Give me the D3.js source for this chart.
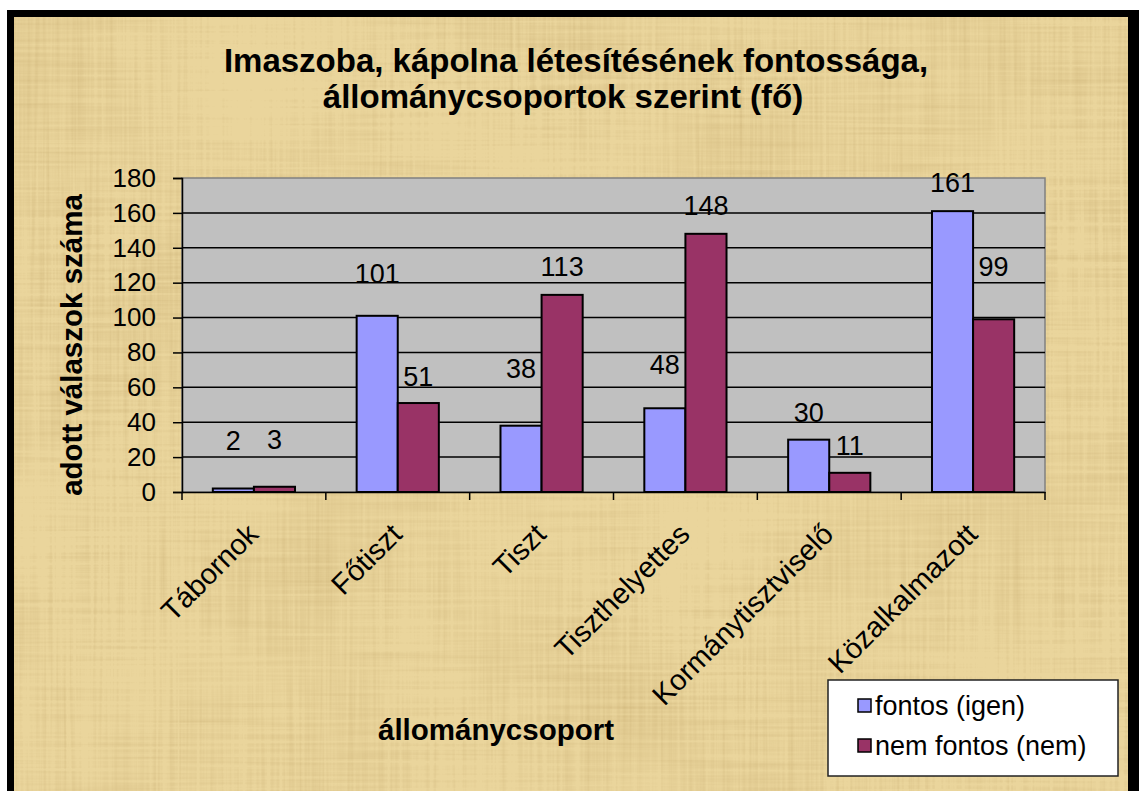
<!DOCTYPE html>
<html>
<head>
<meta charset="utf-8">
<script src="https://cdn.jsdelivr.net/npm/d3@7"></script>
<style>
  body { margin: 0; background: #fff; }
  text { font-family: "Liberation Sans", Arial, sans-serif; fill: #000; }
</style>
</head>
<body>
<svg width="1139" height="791"></svg>
<script>
var categories = ["Tábornok", "Főtiszt", "Tiszt", "Tiszthelyettes", "Kormánytisztviselő", "Közalkalmazott"];
var seriesNames = ["fontos (igen)", "nem fontos (nem)"];
var fontos = [2, 101, 38, 48, 30, 161];
var nemFontos = [3, 51, 113, 148, 11, 99];
var yTicks = [0, 20, 40, 60, 80, 100, 120, 140, 160, 180];

var svg = d3.select("svg"),
    width = +svg.attr("width"),
    height = +svg.attr("height");

var colors = ["#9999ff", "#993366"];

// papyrus texture
var defs = svg.append("defs");
var f = defs.append("filter").attr("id", "papyrus")
    .attr("x", 0).attr("y", 0).attr("width", "100%").attr("height", "100%");
f.append("feTurbulence").attr("type", "fractalNoise").attr("baseFrequency", "0.3 0.006")
    .attr("numOctaves", 2).attr("seed", 3).attr("result", "v");
f.append("feTurbulence").attr("type", "fractalNoise").attr("baseFrequency", "0.006 0.3")
    .attr("numOctaves", 2).attr("seed", 7).attr("result", "h");
f.append("feTurbulence").attr("type", "fractalNoise").attr("baseFrequency", "0.005")
    .attr("numOctaves", 3).attr("seed", 11).attr("result", "b");
f.append("feComposite").attr("in", "v").attr("in2", "h").attr("operator", "arithmetic")
    .attr("k2", 0.5).attr("k3", 0.5).attr("result", "vh");
f.append("feComposite").attr("in", "vh").attr("in2", "b").attr("operator", "arithmetic")
    .attr("k2", 0.65).attr("k3", 0.35).attr("result", "n");
f.append("feColorMatrix").attr("in", "n").attr("type", "matrix")
    .attr("values", "0 0 0 0 0.66  0 0 0 0 0.5  0 0 0 0 0.22  2.4 0 0 0 -1.05");

// frame
svg.append("rect").attr("x", 7).attr("y", 10).attr("width", 1140).attr("height", 800).attr("fill", "#000");
svg.append("rect").attr("x", 14).attr("y", 17).attr("width", 1114).attr("height", 790).attr("fill", "#ead59c");
svg.append("rect").attr("x", 14).attr("y", 17).attr("width", 1114).attr("height", 790)
    .attr("fill", "#fff").attr("filter", "url(#papyrus)");

var plot = { left: 182, right: 1045, top: 178, bottom: 492 };

var x0 = d3.scaleBand().domain(categories).range([plot.left, plot.right]);
var x1 = d3.scaleBand().domain(seriesNames).range([0, x0.bandwidth()]).paddingOuter(0.75);
var y = d3.scaleLinear().domain([0, 180]).range([plot.bottom, plot.top]);

// plot area
svg.append("rect")
    .attr("x", plot.left).attr("y", plot.top)
    .attr("width", plot.right - plot.left).attr("height", plot.bottom - plot.top)
    .attr("fill", "#c0c0c0").attr("stroke", "#808080").attr("stroke-width", 1.5);

svg.append("g").selectAll("line")
    .data(yTicks.filter(function(d) { return d > 0 && d < 180; }))
    .enter().append("line")
      .attr("x1", plot.left).attr("x2", plot.right)
      .attr("y1", function(d) { return y(d); }).attr("y2", function(d) { return y(d); })
      .attr("stroke", "#000").attr("stroke-width", 1.5);

// bars
var rows = categories.map(function(c, i) { return { cat: c, values: [fontos[i], nemFontos[i]] }; });
// gap between bar top and label baseline (labels were moved by hand in the original)
var labelGap = [[39, 38], [33, 17], [48, 19], [34, 19], [18, 18], [19, 43]];

var group = svg.append("g").selectAll("g")
    .data(rows)
    .enter().append("g")
      .attr("transform", function(d) { return "translate(" + x0(d.cat) + ",0)"; });

group.selectAll("rect")
    .data(function(d) { return d.values.map(function(v, j) { return { key: seriesNames[j], v: v, j: j }; }); })
    .enter().append("rect")
      .attr("x", function(d) { return x1(d.key); })
      .attr("y", function(d) { return y(d.v); })
      .attr("width", x1.bandwidth())
      .attr("height", function(d) { return y(0) - y(d.v); })
      .attr("fill", function(d) { return colors[d.j]; })
      .attr("stroke", "#000").attr("stroke-width", 2);

group.selectAll("text")
    .data(function(d, i) { return d.values.map(function(v, j) { return { key: seriesNames[j], v: v, gap: labelGap[i][j] }; }); })
    .enter().append("text")
      .attr("x", function(d) { return x1(d.key) + x1.bandwidth() / 2; })
      .attr("y", function(d) { return y(d.v) - d.gap; })
      .attr("text-anchor", "middle")
      .style("font-size", "27px")
      .text(function(d) { return d.v; });

// axes
var yAxis = svg.append("g")
    .attr("transform", "translate(" + plot.left + ",0)")
    .call(d3.axisLeft(y).tickValues(yTicks).tickSize(9).tickPadding(17));
yAxis.select(".domain").attr("stroke", "#000").attr("stroke-width", 1.5);
yAxis.selectAll(".tick line").attr("stroke", "#000").attr("stroke-width", 1.5);
yAxis.selectAll("text").style("font-size", "26px").attr("font-family", null);

var xAxis = svg.append("g")
    .attr("transform", "translate(0," + plot.bottom + ")")
    .call(d3.axisBottom(x0).tickSize(0).tickFormat(""));
xAxis.select(".domain").attr("stroke", "#000").attr("stroke-width", 1.5);

var bounds = categories.map(function(c) { return x0(c); }).concat([plot.right]);
svg.append("g").selectAll("line")
    .data(bounds)
    .enter().append("line")
      .attr("x1", function(d) { return d; }).attr("x2", function(d) { return d; })
      .attr("y1", plot.bottom).attr("y2", plot.bottom + 8)
      .attr("stroke", "#000").attr("stroke-width", 1.5);

svg.append("g").selectAll("text")
    .data(categories)
    .enter().append("text")
      .attr("text-anchor", "end")
      .attr("transform", function(d) {
        return "translate(" + (x0(d) + x0.bandwidth() / 2 + 6) + "," + (plot.bottom + 44) + ") rotate(-45)";
      })
      .style("font-size", "29px")
      .text(function(d) { return d; });

// titles
svg.append("text").attr("x", 576).attr("y", 72).attr("text-anchor", "middle")
    .style("font-size", "33px").style("font-weight", "bold")
    .text("Imaszoba, kápolna létesítésének fontossága,");
svg.append("text").attr("x", 563).attr("y", 108).attr("text-anchor", "middle")
    .style("font-size", "33px").style("font-weight", "bold")
    .text("állománycsoportok szerint (fő)");

svg.append("text")
    .attr("transform", "translate(82,345) rotate(-90)")
    .attr("text-anchor", "middle")
    .style("font-size", "29.5px").style("font-weight", "bold")
    .text("adott válaszok száma");

svg.append("text").attr("x", 496).attr("y", 740).attr("text-anchor", "middle")
    .style("font-size", "29.5px").style("font-weight", "bold")
    .text("állománycsoport");

// legend
var legend = svg.append("g");
legend.append("rect").attr("x", 828).attr("y", 680).attr("width", 290).attr("height", 96)
    .attr("fill", "#fff").attr("stroke", "#222").attr("stroke-width", 1.5);
var item = legend.selectAll("g.item")
    .data(seriesNames)
    .enter().append("g").attr("class", "item")
      .attr("transform", function(d, i) { return "translate(858," + (699 + i * 40) + ")"; });
item.append("rect").attr("width", 13).attr("height", 13)
    .attr("fill", function(d, i) { return colors[i]; })
    .attr("stroke", "#000").attr("stroke-width", 1.5);
item.append("text").attr("x", 17).attr("y", 16)
    .style("font-size", "27px")
    .text(function(d) { return d; });
</script>
</body>
</html>
